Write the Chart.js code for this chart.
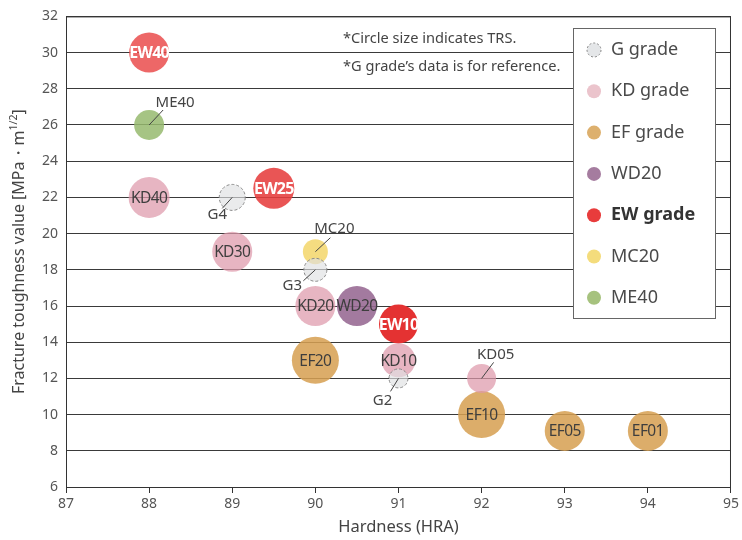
<!DOCTYPE html>
<html>
<head>
<meta charset="utf-8">
<script src="https://cdn.jsdelivr.net/npm/chart.js@4.4.1/dist/chart.umd.min.js"></script>
<style>
  html, body { margin: 0; padding: 0; background: #fff; }
  #wrap { width: 742px; height: 540px; }
</style>
</head>
<body>
<div id="wrap"><canvas id="myChart"></canvas></div>
<script>
// grade names, hardness (HRA), fracture toughness, bubble radius (TRS)
const gNames = ['G4', 'G3', 'G2'];
const gHardness = [89, 90, 91];
const gToughness = [22, 18, 12];
const gTrs = [13, 11.5, 9.5];

const kdNames = ['KD40', 'KD30', 'KD20', 'KD10', 'KD05'];
const kdHardness = [88, 89, 90, 91, 92];
const kdToughness = [22, 19, 16, 13, 12];
const kdTrs = [20.5, 20, 20, 17, 14.5];

const efNames = ['EF20', 'EF10', 'EF05', 'EF01'];
const efHardness = [90, 92, 93, 94];
const efToughness = [13, 10, 9.1, 9.1];
const efTrs = [23.5, 23.5, 20, 20];

const wdNames = ['WD20'];
const wdHardness = [90.5];
const wdToughness = [16];
const wdTrs = [20];

const ewNames = ['EW40', 'EW25', 'EW10'];
const ewHardness = [88, 89.5, 91];
const ewToughness = [30, 22.5, 15];
const ewTrs = [20, 20.5, 19.5];

const mcNames = ['MC20'];
const mcHardness = [90];
const mcToughness = [19];
const mcTrs = [12.5];

const meNames = ['ME40'];
const meHardness = [88];
const meToughness = [26];
const meTrs = [15];

const xTicks = [87, 88, 89, 90, 91, 92, 93, 94, 95];
const yTicks = [6, 8, 10, 12, 14, 16, 18, 20, 22, 24, 26, 28, 30, 32];

const FONT = '"Noto Sans", "Open Sans", sans-serif';

// labels drawn outside the bubble with a leader line: [labelDx, labelDy, lineDx, lineDy]
const callouts = {
    ME40: [26, -22, 14, -15],
    G4: [-15, 17, -10, 11],
    MC20: [19, -23, 15, -14],
    G3: [-23, 16, -12, 11],
    G2: [-16, 22, -8, 13],
    KD05: [14, -24, 12, -16]
};

const toPoints = (xs, ys, rs) => xs.map((x, i) => ({ x: x, y: ys[i], r: rs[i] }));

const datasets = [
    { label: 'G grade', names: gNames, data: toPoints(gHardness, gToughness, gTrs),
      backgroundColor: 'rgba(222,224,226,0.65)', borderColor: '#8a8a8a', borderWidth: 1, dashed: true,
      legendColor: '#e4e6e8' },
    { label: 'KD grade', names: kdNames, data: toPoints(kdHardness, kdToughness, kdTrs),
      backgroundColor: 'rgba(222,152,170,0.72)', borderWidth: 0, legendColor: '#ebc4cc' },
    { label: 'EF grade', names: efNames, data: toPoints(efHardness, efToughness, efTrs),
      backgroundColor: 'rgba(214,160,82,0.86)', borderWidth: 0, legendColor: '#ddb06e' },
    { label: 'WD20', names: wdNames, data: toPoints(wdHardness, wdToughness, wdTrs),
      backgroundColor: 'rgba(150,104,146,0.88)', borderWidth: 0, legendColor: '#a57c9f' },
    { label: 'EW grade', names: ewNames, data: toPoints(ewHardness, ewToughness, ewTrs),
      backgroundColor: ['rgba(233,70,70,0.82)', 'rgba(230,62,62,0.88)', 'rgba(228,50,50,1)'],
      borderWidth: 0, legendColor: '#e83c3c', bold: true },
    { label: 'MC20', names: mcNames, data: toPoints(mcHardness, mcToughness, mcTrs),
      backgroundColor: 'rgba(243,214,106,0.85)', borderWidth: 0, legendColor: '#f4dc7c' },
    { label: 'ME40', names: meNames, data: toPoints(meHardness, meToughness, meTrs),
      backgroundColor: 'rgba(150,186,110,0.85)', borderWidth: 0, legendColor: '#a6c27e' }
];

const dashPlugin = {
    id: 'dashBorder',
    beforeDatasetDraw(chart, args) {
        if (chart.data.datasets[args.index].dashed) {
            chart.ctx.save();
            chart.ctx.setLineDash([3, 2]);
        }
    },
    afterDatasetDraw(chart, args) {
        if (chart.data.datasets[args.index].dashed) chart.ctx.restore();
    }
};

const decorPlugin = {
    id: 'decor',
    afterDatasetsDraw(chart) {
        const c = chart.ctx;
        const a = chart.chartArea;

        // frame
        c.save();
        c.strokeStyle = '#333';
        c.lineWidth = 1;
        c.strokeRect(a.left + 0.5, a.top + 0.5, a.right - a.left - 1, a.bottom - a.top);
        c.restore();

        // bubble labels
        chart.data.datasets.forEach((ds, di) => {
            const meta = chart.getDatasetMeta(di);
            meta.data.forEach((el, i) => {
                const name = ds.names[i];
                const co = callouts[name];
                c.save();
                c.textAlign = 'center';
                c.textBaseline = 'middle';
                if (co) {
                    c.strokeStyle = '#444';
                    c.lineWidth = 1;
                    c.beginPath();
                    c.moveTo(el.x, el.y);
                    c.lineTo(el.x + co[2], el.y + co[3]);
                    c.stroke();
                    c.font = '15px ' + FONT;
                    c.fillStyle = '#444';
                    c.fillText(name, el.x + co[0], el.y + co[1]);
                } else if (ds.bold) {
                    c.font = 'bold 16px ' + FONT;
                    c.letterSpacing = '-0.8px';
                    c.fillStyle = '#fff';
                    c.fillText(name, el.x, el.y + 1);
                } else {
                    c.font = '15.5px ' + FONT;
                    c.letterSpacing = '-0.6px';
                    c.fillStyle = '#3e3e3e';
                    c.fillText(name, el.x, el.y + 1);
                }
                c.restore();
            });
        });

        // notes
        c.save();
        c.font = '14.6px ' + FONT;
        c.fillStyle = '#444';
        c.textBaseline = 'middle';
        c.fillText('*Circle size indicates TRS.', 343, 39);
        c.fillText('*G grade\u2019s data is for reference.', 343, 67);
        c.restore();

        // legend
        c.save();
        c.fillStyle = '#fff';
        c.fillRect(573, 28, 142, 290);
        c.strokeStyle = '#666';
        c.lineWidth = 1;
        c.strokeRect(573.5, 28.5, 142, 290);
        chart.data.datasets.forEach((ds, i) => {
            const y = 50 + i * 41.3;
            c.beginPath();
            c.arc(594, y, 7, 0, Math.PI * 2);
            c.fillStyle = ds.legendColor;
            c.fill();
            if (ds.dashed) {
                c.setLineDash([2, 2]);
                c.strokeStyle = '#888';
                c.stroke();
                c.setLineDash([]);
            }
            c.font = (ds.bold ? 'bold ' : '') + '18px ' + FONT;
            c.fillStyle = ds.bold ? '#333' : '#4a4a4a';
            c.textBaseline = 'middle';
            c.textAlign = 'left';
            c.fillText(ds.label, 611, y);
        });
        c.restore();

        // axis titles
        c.save();
        c.fillStyle = '#444';
        c.font = '16.5px ' + FONT;
        c.textAlign = 'center';
        c.textBaseline = 'middle';
        c.fillText('Hardness (HRA)', (a.left + a.right) / 2, 527);

        c.translate(19, (a.top + a.bottom) / 2);
        c.rotate(-Math.PI / 2);
        const main = 'Fracture toughness value [MPa\u30FBm';
        const sup = '1/2';
        const end = ']';
        c.font = '16px ' + FONT;
        const w1 = c.measureText(main).width;
        const w3 = c.measureText(end).width;
        c.font = '10.5px ' + FONT;
        const w2 = c.measureText(sup).width;
        let x = -(w1 + w2 + w3) / 2;
        c.textAlign = 'left';
        c.font = '16px ' + FONT;
        c.fillText(main, x, 0);
        x += w1;
        c.font = '10.5px ' + FONT;
        c.fillText(sup, x, -5);
        x += w2;
        c.font = '16px ' + FONT;
        c.fillText(end, x, 0);
        c.restore();
    }
};

const ctx = document.getElementById('myChart').getContext('2d');

const myChart = new Chart(ctx, {
    type: 'bubble',
    data: { datasets: datasets },
    options: {
        responsive: true,
        maintainAspectRatio: false,
        animation: false,
        events: [],
        layout: { autoPadding: false, padding: { top: 15, right: 9, left: 0, bottom: 0 } },
        plugins: {
            legend: { display: false },
            tooltip: { enabled: false }
        },
        scales: {
            x: {
                type: 'linear',
                min: xTicks[0],
                max: xTicks[xTicks.length - 1],
                afterBuildTicks: (scale) => { scale.ticks = xTicks.map(v => ({ value: v })); },
                afterFit: (scale) => { scale.height = 53; },
                grid: { drawOnChartArea: false, drawTicks: true, tickLength: 6, color: '#333' },
                border: { display: true, color: '#333' },
                ticks: { color: '#555', font: { family: FONT, size: 14 }, padding: 3, maxRotation: 0 }
            },
            y: {
                type: 'linear',
                min: yTicks[0],
                max: yTicks[yTicks.length - 1],
                afterBuildTicks: (scale) => { scale.ticks = yTicks.map(v => ({ value: v })); },
                afterFit: (scale) => { scale.width = 66; },
                grid: { color: '#3a3a3a', drawTicks: false },
                border: { display: true, color: '#333' },
                ticks: { color: '#555', font: { family: FONT, size: 14 }, padding: 8 }
            }
        }
    },
    plugins: [dashPlugin, decorPlugin]
});
</script>
</body>
</html>
